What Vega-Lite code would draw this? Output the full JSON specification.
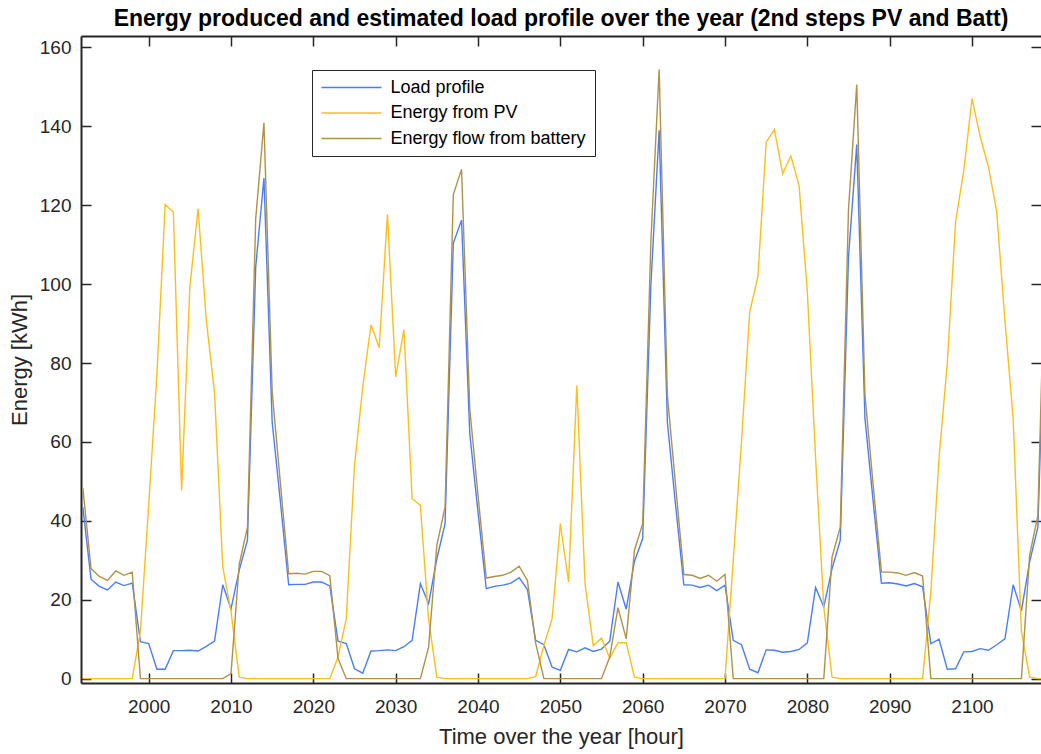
{
  "$schema": "https://vega.github.io/schema/vega-lite/v6.json",
  "width": 960,
  "height": 647,
  "autosize": {"type": "none"},
  "padding": {"left": 81, "top": 36, "right": 0, "bottom": 71},
  "background": "white",
  "title": {
    "text": "Energy produced and estimated load profile over the year (2nd steps PV and Batt)",
    "font": "Liberation Sans",
    "fontSize": 23,
    "fontWeight": "bold",
    "color": "#000000",
    "anchor": "middle",
    "offset": 4
  },
  "data": {
    "values": [
      {"hour": 1992, "load": 43.5, "pv": 0, "battery": 48.4},
      {"hour": 1993, "load": 25.2, "pv": 0, "battery": 27.9},
      {"hour": 1994, "load": 23.4, "pv": 0, "battery": 25.9},
      {"hour": 1995, "load": 22.5, "pv": 0, "battery": 24.9},
      {"hour": 1996, "load": 24.5, "pv": 0, "battery": 27.3},
      {"hour": 1997, "load": 23.6, "pv": 0, "battery": 26.2},
      {"hour": 1998, "load": 24.2, "pv": 0, "battery": 27.0},
      {"hour": 1999, "load": 9.4, "pv": 12, "battery": 0},
      {"hour": 2000, "load": 8.9, "pv": 44, "battery": 0},
      {"hour": 2001, "load": 2.4, "pv": 77, "battery": 0},
      {"hour": 2002, "load": 2.4, "pv": 120.2, "battery": 0},
      {"hour": 2003, "load": 7.1, "pv": 118.2, "battery": 0},
      {"hour": 2004, "load": 7.1, "pv": 47.7, "battery": 0},
      {"hour": 2005, "load": 7.2, "pv": 99.3, "battery": 0},
      {"hour": 2006, "load": 7.0, "pv": 119.1, "battery": 0},
      {"hour": 2007, "load": 8.2, "pv": 90.8, "battery": 0},
      {"hour": 2008, "load": 9.5, "pv": 72.5, "battery": 0},
      {"hour": 2009, "load": 23.8, "pv": 28.3, "battery": 0},
      {"hour": 2010, "load": 17.7, "pv": 17, "battery": 1.3},
      {"hour": 2011, "load": 27.5, "pv": 0.4, "battery": 29},
      {"hour": 2012, "load": 35.1, "pv": 0, "battery": 38.4},
      {"hour": 2013, "load": 104.3, "pv": 0, "battery": 116.6},
      {"hour": 2014, "load": 126.9, "pv": 0, "battery": 140.9},
      {"hour": 2015, "load": 65.0, "pv": 0, "battery": 72.7},
      {"hour": 2016, "load": 44.8, "pv": 0, "battery": 49.5},
      {"hour": 2017, "load": 23.8, "pv": 0, "battery": 26.6},
      {"hour": 2018, "load": 23.9, "pv": 0, "battery": 26.7},
      {"hour": 2019, "load": 23.9, "pv": 0, "battery": 26.5},
      {"hour": 2020, "load": 24.5, "pv": 0, "battery": 27.2},
      {"hour": 2021, "load": 24.5, "pv": 0, "battery": 27.2},
      {"hour": 2022, "load": 23.5, "pv": 0, "battery": 26.1},
      {"hour": 2023, "load": 9.5, "pv": 5.5, "battery": 5.1},
      {"hour": 2024, "load": 8.9, "pv": 15.2, "battery": 0},
      {"hour": 2025, "load": 2.5, "pv": 54.1, "battery": 0},
      {"hour": 2026, "load": 1.4, "pv": 73.9, "battery": 0},
      {"hour": 2027, "load": 7.0, "pv": 89.7, "battery": 0},
      {"hour": 2028, "load": 7.1, "pv": 83.9, "battery": 0},
      {"hour": 2029, "load": 7.3, "pv": 117.7, "battery": 0},
      {"hour": 2030, "load": 7.1, "pv": 76.5, "battery": 0},
      {"hour": 2031, "load": 8.1, "pv": 88.5, "battery": 0},
      {"hour": 2032, "load": 9.7, "pv": 45.6, "battery": 0},
      {"hour": 2033, "load": 24.1, "pv": 43.9, "battery": 0},
      {"hour": 2034, "load": 19.0, "pv": 15, "battery": 8.0},
      {"hour": 2035, "load": 30.4, "pv": 0.4, "battery": 33.8},
      {"hour": 2036, "load": 39.3, "pv": 0, "battery": 43.5},
      {"hour": 2037, "load": 110.4, "pv": 0, "battery": 122.7},
      {"hour": 2038, "load": 116.2, "pv": 0, "battery": 129.1},
      {"hour": 2039, "load": 62.1, "pv": 0, "battery": 68.4},
      {"hour": 2040, "load": 42.2, "pv": 0, "battery": 46.5},
      {"hour": 2041, "load": 22.8, "pv": 0, "battery": 25.5},
      {"hour": 2042, "load": 23.4, "pv": 0, "battery": 25.9},
      {"hour": 2043, "load": 23.7, "pv": 0, "battery": 26.2},
      {"hour": 2044, "load": 24.2, "pv": 0, "battery": 27.0},
      {"hour": 2045, "load": 25.6, "pv": 0, "battery": 28.5},
      {"hour": 2046, "load": 22.6, "pv": 0, "battery": 24.9},
      {"hour": 2047, "load": 9.7, "pv": 0.5, "battery": 9},
      {"hour": 2048, "load": 8.6, "pv": 8.4, "battery": 0},
      {"hour": 2049, "load": 2.9, "pv": 15.2, "battery": 0},
      {"hour": 2050, "load": 2.1, "pv": 39.3, "battery": 0},
      {"hour": 2051, "load": 7.4, "pv": 24.5, "battery": 0},
      {"hour": 2052, "load": 6.8, "pv": 74.3, "battery": 0},
      {"hour": 2053, "load": 7.8, "pv": 24.1, "battery": 0},
      {"hour": 2054, "load": 6.9, "pv": 8.4, "battery": 0},
      {"hour": 2055, "load": 7.5, "pv": 10.3, "battery": 0},
      {"hour": 2056, "load": 9.5, "pv": 5.2, "battery": 5.5},
      {"hour": 2057, "load": 24.5, "pv": 9.1, "battery": 18.0},
      {"hour": 2058, "load": 17.6, "pv": 9.1, "battery": 10.1},
      {"hour": 2059, "load": 29.7, "pv": 0.4, "battery": 32.5},
      {"hour": 2060, "load": 35.5, "pv": 0, "battery": 39.3},
      {"hour": 2061, "load": 100, "pv": 0, "battery": 111},
      {"hour": 2062, "load": 139.0, "pv": 0, "battery": 154.4},
      {"hour": 2063, "load": 65.0, "pv": 0, "battery": 71.8},
      {"hour": 2064, "load": 43.9, "pv": 0, "battery": 49.0},
      {"hour": 2065, "load": 23.8, "pv": 0, "battery": 26.4},
      {"hour": 2066, "load": 23.7, "pv": 0, "battery": 26.2},
      {"hour": 2067, "load": 23.1, "pv": 0, "battery": 25.4},
      {"hour": 2068, "load": 23.7, "pv": 0, "battery": 26.2},
      {"hour": 2069, "load": 22.3, "pv": 0, "battery": 24.7},
      {"hour": 2070, "load": 23.7, "pv": 0, "battery": 26.4},
      {"hour": 2071, "load": 9.7, "pv": 30, "battery": 0},
      {"hour": 2072, "load": 8.6, "pv": 60, "battery": 0},
      {"hour": 2073, "load": 2.4, "pv": 92.9, "battery": 0},
      {"hour": 2074, "load": 1.5, "pv": 102, "battery": 0},
      {"hour": 2075, "load": 7.3, "pv": 136.0, "battery": 0},
      {"hour": 2076, "load": 7.2, "pv": 139.2, "battery": 0},
      {"hour": 2077, "load": 6.7, "pv": 128.0, "battery": 0},
      {"hour": 2078, "load": 6.9, "pv": 132.5, "battery": 0},
      {"hour": 2079, "load": 7.4, "pv": 124.9, "battery": 0},
      {"hour": 2080, "load": 9.1, "pv": 98, "battery": 0},
      {"hour": 2081, "load": 23.1, "pv": 56, "battery": 0},
      {"hour": 2082, "load": 18.2, "pv": 18, "battery": 0},
      {"hour": 2083, "load": 27.9, "pv": 0.4, "battery": 30.8},
      {"hour": 2084, "load": 35.1, "pv": 0, "battery": 38.4},
      {"hour": 2085, "load": 107, "pv": 0, "battery": 119},
      {"hour": 2086, "load": 135.4, "pv": 0, "battery": 150.6},
      {"hour": 2087, "load": 65.9, "pv": 0, "battery": 71.8},
      {"hour": 2088, "load": 44.8, "pv": 0, "battery": 49.0},
      {"hour": 2089, "load": 24.2, "pv": 0, "battery": 27.0},
      {"hour": 2090, "load": 24.3, "pv": 0, "battery": 27.0},
      {"hour": 2091, "load": 24.0, "pv": 0, "battery": 26.8},
      {"hour": 2092, "load": 23.5, "pv": 0, "battery": 26.2},
      {"hour": 2093, "load": 24.1, "pv": 0, "battery": 26.9},
      {"hour": 2094, "load": 23.3, "pv": 0, "battery": 26.0},
      {"hour": 2095, "load": 8.9, "pv": 22, "battery": 0},
      {"hour": 2096, "load": 10.0, "pv": 56, "battery": 0},
      {"hour": 2097, "load": 2.4, "pv": 80, "battery": 0},
      {"hour": 2098, "load": 2.5, "pv": 115.7, "battery": 0},
      {"hour": 2099, "load": 6.8, "pv": 128.8, "battery": 0},
      {"hour": 2100, "load": 6.9, "pv": 147.0, "battery": 0},
      {"hour": 2101, "load": 7.6, "pv": 137.3, "battery": 0},
      {"hour": 2102, "load": 7.2, "pv": 129.7, "battery": 0},
      {"hour": 2103, "load": 8.6, "pv": 118.3, "battery": 0},
      {"hour": 2104, "load": 10.1, "pv": 90.8, "battery": 0},
      {"hour": 2105, "load": 23.8, "pv": 65.9, "battery": 0},
      {"hour": 2106, "load": 17.2, "pv": 12, "battery": 0},
      {"hour": 2107, "load": 29.6, "pv": 0.4, "battery": 31.3},
      {"hour": 2108, "load": 38.4, "pv": 0, "battery": 41.4},
      {"hour": 2109, "load": 106, "pv": 0, "battery": 118}
    ]
  },
  "transform": [{"fold": ["load", "pv", "battery"], "as": ["series", "energy"]}],
  "layer": [
    {
      "mark": {"type": "line", "strokeWidth": 1.4, "clip": true},
      "encoding": {
        "x": {
          "field": "hour",
          "type": "quantitative",
          "scale": {"domain": [1991.78, 2108.38], "nice": false, "zero": false},
          "axis": {
            "values": [2000, 2010, 2020, 2030, 2040, 2050, 2060, 2070, 2080, 2090, 2100],
            "format": "d",
            "title": "Time over the year [hour]",
            "grid": false,
            "tickSize": -10,
            "tickWidth": 1.5,
            "tickColor": "#262626",
            "domainColor": "#262626",
            "domainWidth": 2,
            "labelFont": "Liberation Sans",
            "labelFontSize": 19,
            "labelColor": "#262626",
            "labelPadding": 24,
            "labelFlush": false,
            "titleFont": "Liberation Sans",
            "titleFontSize": 22,
            "titleFontWeight": "normal",
            "titleColor": "#262626",
            "titlePadding": 10
          }
        },
        "y": {
          "field": "energy",
          "type": "quantitative",
          "scale": {"domain": [-1.1, 162.9], "nice": false, "zero": false},
          "axis": {
            "values": [0, 20, 40, 60, 80, 100, 120, 140, 160],
            "title": "Energy [kWh]",
            "grid": false,
            "tickSize": -10,
            "tickWidth": 1.5,
            "tickColor": "#262626",
            "domainColor": "#262626",
            "domainWidth": 2,
            "labelFont": "Liberation Sans",
            "labelFontSize": 19,
            "labelColor": "#262626",
            "labelPadding": 20,
            "labelFlush": false,
            "titleFont": "Liberation Sans",
            "titleFontSize": 22,
            "titleFontWeight": "normal",
            "titleColor": "#262626",
            "titlePadding": 8
          }
        },
        "color": {
          "field": "series",
          "type": "nominal",
          "scale": {"domain": ["load", "pv", "battery"], "range": ["#4A7EF7", "#FDBE1C", "#B09148"]},
          "legend": {
            "orient": "none",
            "legendX": 231,
            "legendY": 34,
            "title": null,
            "symbolType": "stroke",
            "symbolSize": 3600,
            "symbolStrokeWidth": 1.4,
            "labelFont": "Liberation Sans",
            "labelFontSize": 18,
            "labelColor": "#000000",
            "labelOffset": 8,
            "labelLimit": 400,
            "clipHeight": 18,
            "rowPadding": 7.5,
            "padding": 8.5,
            "strokeColor": "#262626",
            "fillColor": "white",
            "labelExpr": "datum.value == 'load' ? 'Load profile' : datum.value == 'pv' ? 'Energy from PV' : 'Energy flow from battery'"
          }
        }
      }
    },
    {
      "mark": {"type": "line", "strokeOpacity": 0, "clip": true},
      "encoding": {
        "x": {
          "field": "hour",
          "type": "quantitative",
          "scale": {"domain": [1991.78, 2108.38], "nice": false, "zero": false},
          "axis": {
            "orient": "top",
            "values": [2000, 2010, 2020, 2030, 2040, 2050, 2060, 2070, 2080, 2090, 2100],
            "labels": false,
            "title": null,
            "grid": false,
            "tickSize": -10,
            "tickWidth": 1.5,
            "tickColor": "#262626",
            "domainColor": "#262626",
            "domainWidth": 2
          }
        },
        "y": {
          "field": "energy",
          "type": "quantitative",
          "scale": {"domain": [-1.1, 162.9], "nice": false, "zero": false},
          "axis": {
            "orient": "right",
            "values": [0, 20, 40, 60, 80, 100, 120, 140, 160],
            "labels": false,
            "title": null,
            "grid": false,
            "tickSize": -10,
            "tickWidth": 1.5,
            "tickColor": "#262626",
            "domain": false
          }
        },
        "detail": {"field": "series", "type": "nominal"}
      }
    }
  ],
  "resolve": {"axis": {"x": "independent", "y": "independent"}},
  "config": {"view": {"stroke": null}}
}
